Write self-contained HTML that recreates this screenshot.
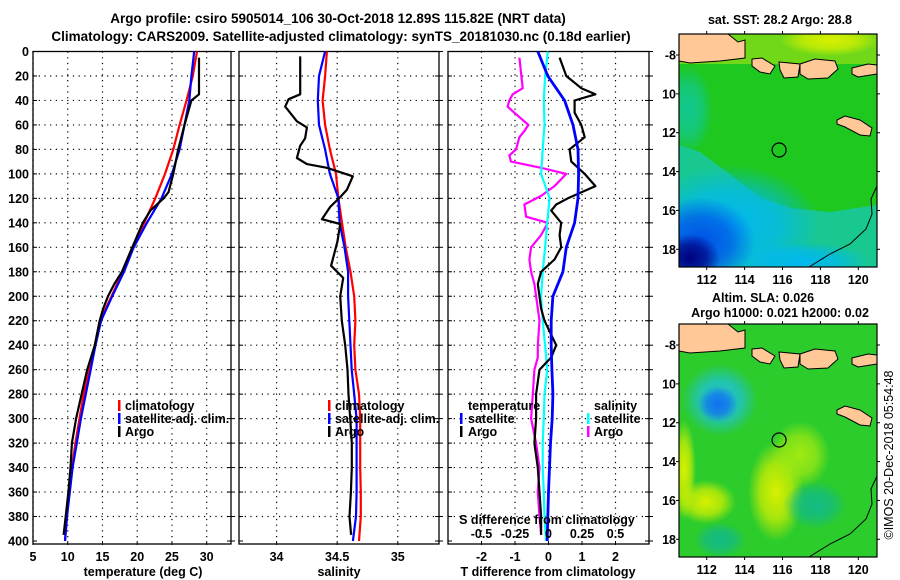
<!DOCTYPE html>
<html><head><meta charset="utf-8">
<style>
html,body{margin:0;padding:0;background:#fff;}
svg{display:block;font-family:"Liberation Sans",Arial,sans-serif;}
.b{font-weight:bold;font-size:12.5px;fill:#000;}
.t{font-weight:bold;font-size:13.5px;fill:#000;}
</style></head>
<body>
<svg id="chart" width="900" height="580" viewBox="0 0 900 580" xmlns="http://www.w3.org/2000/svg">
<text class="t" x="338" y="23" text-anchor="middle">Argo profile: csiro 5905014_106 30-Oct-2018 12.89S 115.82E (NRT data)</text>
<text class="t" x="341" y="41" text-anchor="middle">Climatology: CARS2009. Satellite-adjusted climatology: synTS_20181030.nc (0.18d earlier)</text>
<g id="plots"></g>
<g id="maps"></g>
<text x="893" y="455" font-size="12.5" text-anchor="middle" transform="rotate(-90 893 455)">©IMOS 20-Dec-2018 05:54:48</text>
</svg>
<script>
// ---------- data ----------
const climDepth = [0,20,40,60,80,100,120,140,160,180,200,220,240,260,280,300,320,340,360,380,400];
const tempClim = [28.6,28.0,27.1,26.1,25.2,24.0,22.6,21.0,19.3,17.9,16.3,14.6,13.9,13.1,12.3,11.7,11.1,10.6,10.2,9.9,9.6];
const tempSat  = [28.2,27.8,27.5,26.8,26.1,25.0,23.5,21.4,19.5,18.1,16.4,14.8,14.0,13.3,12.6,11.9,11.3,10.7,10.3,9.9,9.6];
const argoTDepth = [5,35,40,60,80,100,115,120,130,140,160,180,190,200,210,220,240,260,280,300,320,340,360,380,395];
const tempArgo = [28.9,28.9,27.8,26.8,25.9,25.2,24.5,23.8,21.9,20.8,19.3,17.8,16.7,15.8,15.1,14.6,13.9,12.8,12.0,11.2,10.6,10.4,10.1,9.7,9.4];

const salClim = [34.415,34.40,34.38,34.40,34.44,34.49,34.51,34.54,34.57,34.61,34.64,34.65,34.64,34.65,34.68,34.69,34.69,34.69,34.695,34.695,34.68];
const salSat  = [34.40,34.35,34.34,34.35,34.40,34.44,34.51,34.52,34.56,34.59,34.59,34.60,34.61,34.62,34.64,34.66,34.66,34.66,34.66,34.655,34.63];
const argoSDepth = [4,35,39,45,57,62,71,77,87,92,95,102,113,119,127,137,141,155,175,185,200,220,240,260,280,300,320,340,360,380,395];
const salArgo = [34.195,34.195,34.099,34.071,34.168,34.25,34.235,34.195,34.168,34.25,34.415,34.629,34.58,34.525,34.442,34.374,34.525,34.503,34.45,34.55,34.525,34.538,34.566,34.585,34.593,34.607,34.621,34.621,34.613,34.602,34.615];

const tDiffSat = [-0.32,-0.02,0.48,0.73,0.88,0.9,0.88,0.78,0.53,0.43,0.13,0.08,0.08,0.1,0.13,0.11,0.06,0.03,0,-0.02,-0.04];
const argoTdDepth = [5,20,30,35,40,50,60,70,80,90,100,110,120,125,130,140,150,160,170,180,190,200,210,220,240,250,260,280,300,320,340,360,380,395];
const tDiffArgo = [0.33,0.53,0.98,1.4,0.78,0.78,0.98,1.08,0.63,0.68,1.08,1.4,0.58,0.23,0.08,0.38,0.33,0.38,0.18,-0.22,-0.32,-0.27,-0.22,-0.12,0.23,0.08,-0.27,-0.37,-0.37,-0.42,-0.32,-0.27,-0.22,-0.22];
const sDiffSat = [-0.005,-0.025,-0.035,-0.03,-0.043,-0.055,0.008,-0.01,-0.025,-0.043,-0.055,-0.043,-0.025,-0.01,-0.03,-0.035,-0.043,-0.043,-0.035,-0.03,-0.018];
const argoSdDepth = [5,30,35,40,45,50,60,65,70,80,85,90,95,100,110,118,125,135,140,150,160,170,180,190,200,220,240,250,260,280,300,320,340,360,380,395];
const sDiffArgo = [-0.2175,-0.1925,-0.2675,-0.2925,-0.305,-0.255,-0.15,-0.18,-0.2175,-0.2425,-0.2925,-0.28,-0.055,0.1325,0.045,-0.055,-0.18,-0.1675,-0.005,-0.055,-0.13,-0.1425,-0.13,-0.105,-0.0925,-0.0675,-0.08,-0.08,-0.105,-0.1175,-0.13,-0.0925,-0.0675,-0.08,-0.0675,-0.055];

const depthTicks = [0,20,40,60,80,100,120,140,160,180,200,220,240,260,280,300,320,340,360,380,400];
const tTicks = [5,10,15,20,25,30];
const sTicks = [34,34.5,35];
const dTicks = [-2,-1,0,1,2];
const sdTickLabels = ["-0.5","-0.25","0","0.25","0.5"];
const latTicks = [-8,-10,-12,-14,-16,-18];
const lonTicks = [112,114,116,118,120];
const argoLon = 115.82, argoLat = -12.89;

// ---------- helpers ----------
const NS="http://www.w3.org/2000/svg";
function mk(tag,attrs,parent){const e=document.createElementNS(NS,tag);for(const k in attrs)e.setAttribute(k,attrs[k]);parent.appendChild(e);return e;}
const Y0=51.5, Y1=541;
const yD = d => Y0 + (d/400)*(Y1-Y0);
function xs(x0,x1,lo,hi){return v => x0 + (v-lo)/(hi-lo)*(x1-x0);}
const plots=document.getElementById('plots');

function panel(name,x0,x1,ticks,xf,labels,showY){
  const g=mk('g',{},plots);
  
  
  depthTicks.forEach(d=>{
    if(d>0&&d<400){const l=mk('line',{x1:x0,x2:x1,y1:yD(d),y2:yD(d),stroke:'#000','stroke-width':1.2,'stroke-dasharray':'1.2 4.5'},g);
      }
    mk('line',{x1:x0,x2:x0+4,y1:yD(d),y2:yD(d),stroke:'#000'},g);
    mk('line',{x1:x1-4,x2:x1+4,y1:yD(d),y2:yD(d),stroke:'#000'},g);
    if(showY){const t=mk('text',{x:29,y:yD(d)+4.5,'text-anchor':'end','class':'b'},g);t.textContent=d;
      }
  });
  ticks.forEach((v,i)=>{
    const x=xf(v);
    const l=mk('line',{x1:x,x2:x,y1:Y0,y2:Y1,stroke:'#000','stroke-width':1.2,'stroke-dasharray':'1.2 4.5'},g);
    
    mk('line',{x1:x,x2:x,y1:Y1,y2:Y1+4,stroke:'#000'},g);
    const t=mk('text',{x:x,y:561,'text-anchor':'middle','class':'b'},g);t.textContent=labels?labels[i]:v;
    
  });
  const r=mk('rect',{x:x0,y:Y0,width:x1-x0,height:Y1-Y0+3,fill:'none',stroke:'#000','stroke-width':1.3},g);
  
  return g;
}
function series(g,name,depths,vals,xf,color,w){
  const pts=vals.map((v,i)=>xf(v).toFixed(1)+','+yD(depths[i]).toFixed(1)).join(' ');
  const p=mk('polyline',{points:pts,fill:'none',stroke:color,'stroke-width':w,'stroke-linejoin':'round'},g);
  
  
}
function txt(g,name,x,y,s,anchor){
  const t=mk('text',{x:x,y:y,'class':'b','text-anchor':anchor||'start'},g);t.textContent=s;
  return t;}
function legBar(g,x,y,color){const r=mk('rect',{x:x,y:y-10,width:2.5,height:11,fill:color},g);
  }

// panel 1 temperature
const xT=xs(33,231,5,33.5);
const g1=panel('temperature-panel',33,231,tTicks,xT,null,true);
series(g1,'temp-climatology-line',climDepth,tempClim,xT,'#f00',2.2);
series(g1,'temp-satellite-line',climDepth,tempSat,xT,'#00f',2.2);
series(g1,'temp-argo-line',argoTDepth,tempArgo,xT,'#000',2.2);
txt(g1,'x-axis-title',143,576,'temperature (deg C)','middle');
legBar(g1,118,410,'#f00');txt(g1,'legend-climatology',125,410,'climatology');
legBar(g1,118,423,'#00f');txt(g1,'legend-satellite-adj',125,423,'satellite-adj. clim.');
legBar(g1,118,436,'#000');txt(g1,'legend-argo',125,436,'Argo');

// panel 2 salinity
const xS=xs(239,439,33.69,35.34);
const g2=panel('salinity-panel',239,439,sTicks,xS,null,false);
series(g2,'sal-climatology-line',climDepth,salClim,xS,'#f00',2.2);
series(g2,'sal-satellite-line',climDepth,salSat,xS,'#00f',2.2);
series(g2,'sal-argo-line',argoSDepth,salArgo,xS,'#000',2.2);
txt(g2,'x-axis-title',339,576,'salinity','middle');
legBar(g2,328,410,'#f00');txt(g2,'legend-climatology',335,410,'climatology');
legBar(g2,328,423,'#00f');txt(g2,'legend-satellite-adj',335,423,'satellite-adj. clim.');
legBar(g2,328,436,'#000');txt(g2,'legend-argo',335,436,'Argo');

// panel 3 differences
const xDf=xs(448,649,-3,3);
const xSd=v=>xDf(v*4);
const g3=panel('difference-panel',448,649,dTicks,xDf,null,false);
series(g3,'s-diff-argo-line',argoSdDepth,sDiffArgo,xSd,'#f0f',2.2);
series(g3,'s-diff-satellite-line',climDepth,sDiffSat,xSd,'#0ff',2.2);
series(g3,'t-diff-argo-line',argoTdDepth,tDiffArgo,xDf,'#000',2.2);
series(g3,'t-diff-satellite-line',climDepth,tDiffSat,xDf,'#00f',2.8);
txt(g3,'x-axis-title',548,576,'T difference from climatology','middle');
txt(g3,'s-axis-title',547,524,'S difference from climatology','middle');
sdTickLabels.forEach((s,i)=>{txt(g3,'s-tick-label',xDf(dTicks[i]),538,s,'middle');});
txt(g3,'legend-temperature-header',468,410,'temperature');
legBar(g3,460,423,'#00f');txt(g3,'legend-t-satellite',468,423,'satellite');
legBar(g3,460,436,'#000');txt(g3,'legend-t-argo',468,436,'Argo');
txt(g3,'legend-salinity-header',594,410,'salinity');
legBar(g3,587,423,'#0ff');txt(g3,'legend-s-satellite',594,423,'satellite');
legBar(g3,587,436,'#f0f');txt(g3,'legend-s-argo',594,436,'Argo');

// ---------- maps ----------
const maps=document.getElementById('maps');
const defs=mk('defs',{},maps);
function blob(id,color,op){const rg=mk('radialGradient',{id:id},defs);
  mk('stop',{offset:'0','stop-color':color,'stop-opacity':op},rg);
  mk('stop',{offset:'0.55','stop-color':color,'stop-opacity':op*0.7},rg);
  mk('stop',{offset:'1','stop-color':color,'stop-opacity':0},rg);}
blob('bNavy','#000080',1);blob('bBlue','#0050e8',1);blob('bCyan','#00b8f0',1);blob('bTeal','#10c8a0',0.9);
blob('bYel','#d8f000',1);blob('bYG','#a8ec10',0.95);blob('bSlaB','#1070f0',1);blob('bSlaC','#20c0e0',1);blob('bSlaT','#10b890',0.9);
function mapFrame(name,top){
  const X0=679,X1=877,Y1m=top+233;
  const lonX=l=>706.7+(l-112)*18.95;
  const latY=l=>top+21+(-8-l)*19.43;
  const g=mk('g',{},maps);
  
  const cp=mk('clipPath',{id:'cp'+top},defs);mk('rect',{x:X0,y:top,width:X1-X0,height:233},cp);
  const inner=mk('g',{'clip-path':'url(#cp'+top+')'},g);
  return {g,inner,lonX,latY,X0,X1,Y1m,top};
}
function finishMap(m,titleLines){
  const {g,inner,lonX,latY,X0,X1,Y1m,top}=m;
  const land=[
    [[679,top],[728,top],[738,top+8],[745,top+6],[745,top+24],[720,top+27],[690,top+29],[679,top+27]],
    [[752,top+25],[762,top+24],[775,top+32],[770,top+40],[760,top+38],[752,top+32]],
    [[779,top+28],[800,top+30],[798,top+43],[784,top+44],[780,top+36]],
    [[800,top+30],[815,top+25],[835,top+27],[838,top+35],[828,top+44],[808,top+45],[800,top+40]],
    [[852,top+34],[868,top+30],[877,top+31],[877,top+40],[858,top+43],[852,top+40]],
    [[837,top+86],[845,top+82],[860,top+86],[872,top+94],[870,top+102],[860,top+101],[845,top+93],[837,top+90]]
  ];
  land.forEach(p=>{const e=mk('polygon',{points:p.map(q=>q.join(',')).join(' '),fill:'#ffc896',stroke:'#000','stroke-width':1},inner);
    });
  const coast=mk('polyline',{points:`809,${top+233} 830,${top+220} 850,${top+210} 866,${top+195} 872,${top+180} 871,${top+165} 877,${top+152}`,fill:'none',stroke:'#000','stroke-width':1},inner);
  
  const c=mk('circle',{cx:lonX(argoLon),cy:latY(argoLat),r:7,fill:'none',stroke:'#000','stroke-width':1.2},g);
  
  mk('rect',{x:X0,y:top,width:X1-X0,height:233,fill:'none',stroke:'#000','stroke-width':1.2},g);
  latTicks.forEach(l=>{const y=latY(l);mk('line',{x1:X0-3,x2:X0,y1:y,y2:y,stroke:'#000'},g);mk('line',{x1:X1,x2:X1+3,y1:y,y2:y,stroke:'#000'},g);
    txt(g,'lat-tick-label',676,y+4.5,l===-8?'-8':String(-l),'end');});
  lonTicks.forEach(l=>{const x=lonX(l);mk('line',{x1:x,x2:x,y1:top-3,y2:top,stroke:'#000'},g);mk('line',{x1:x,x2:x,y1:Y1m,y2:Y1m+3,stroke:'#000'},g);
    txt(g,'lon-tick-label',x,Y1m+17,String(l),'middle');});
  titleLines.forEach(s=>txt(g,'map-title',s[1],s[2],s[0],'middle'));
}
// SST map
const m1=mapFrame('sst-map',34);
mk('rect',{x:679,y:34,width:198,height:233,fill:'#1ec81e'},m1.inner);
mk('rect',{x:679,y:34,width:198,height:30,fill:'#70d818'},m1.inner);
mk('ellipse',{cx:830,cy:40,rx:50,ry:16,fill:'url(#bYel)'},m1.inner);
mk('polygon',{points:'679,145 700,152 735,178 760,198 790,208 830,212 877,205 877,267 679,267',fill:'#18c890'},m1.inner);
mk('ellipse',{cx:688,cy:110,rx:25,ry:45,fill:'url(#bTeal)'},m1.inner);
mk('ellipse',{cx:730,cy:225,rx:90,ry:60,fill:'url(#bCyan)'},m1.inner);
mk('ellipse',{cx:800,cy:262,rx:70,ry:20,fill:'url(#bCyan)'},m1.inner);
mk('ellipse',{cx:700,cy:242,rx:55,ry:45,fill:'url(#bBlue)'},m1.inner);
mk('ellipse',{cx:690,cy:258,rx:30,ry:24,fill:'url(#bNavy)'},m1.inner);
finishMap(m1,[['sat. SST: 28.2 Argo: 28.8',780,24]]);
// SLA map
const m2=mapFrame('sla-map',324);
mk('rect',{x:679,y:324,width:198,height:233,fill:'#2ccc2c'},m2.inner);
mk('ellipse',{cx:720,cy:400,rx:38,ry:36,fill:'url(#bSlaC)'},m2.inner);
mk('ellipse',{cx:718,cy:404,rx:20,ry:18,fill:'url(#bSlaB)'},m2.inner);
mk('ellipse',{cx:776,cy:492,rx:28,ry:50,fill:'url(#bYel)'},m2.inner);
mk('ellipse',{cx:800,cy:455,rx:30,ry:34,fill:'url(#bYG)'},m2.inner);
mk('ellipse',{cx:706,cy:502,rx:30,ry:22,fill:'url(#bYel)'},m2.inner);
mk('ellipse',{cx:684,cy:470,rx:12,ry:50,fill:'url(#bYel)'},m2.inner);
mk('ellipse',{cx:815,cy:505,rx:32,ry:24,fill:'url(#bSlaT)'},m2.inner);
mk('ellipse',{cx:720,cy:540,rx:26,ry:18,fill:'url(#bSlaT)'},m2.inner);
finishMap(m2,[['Altim. SLA: 0.026',763,302],['Argo h1000: 0.021 h2000: 0.02',780,317]]);
</script>
</body></html>
